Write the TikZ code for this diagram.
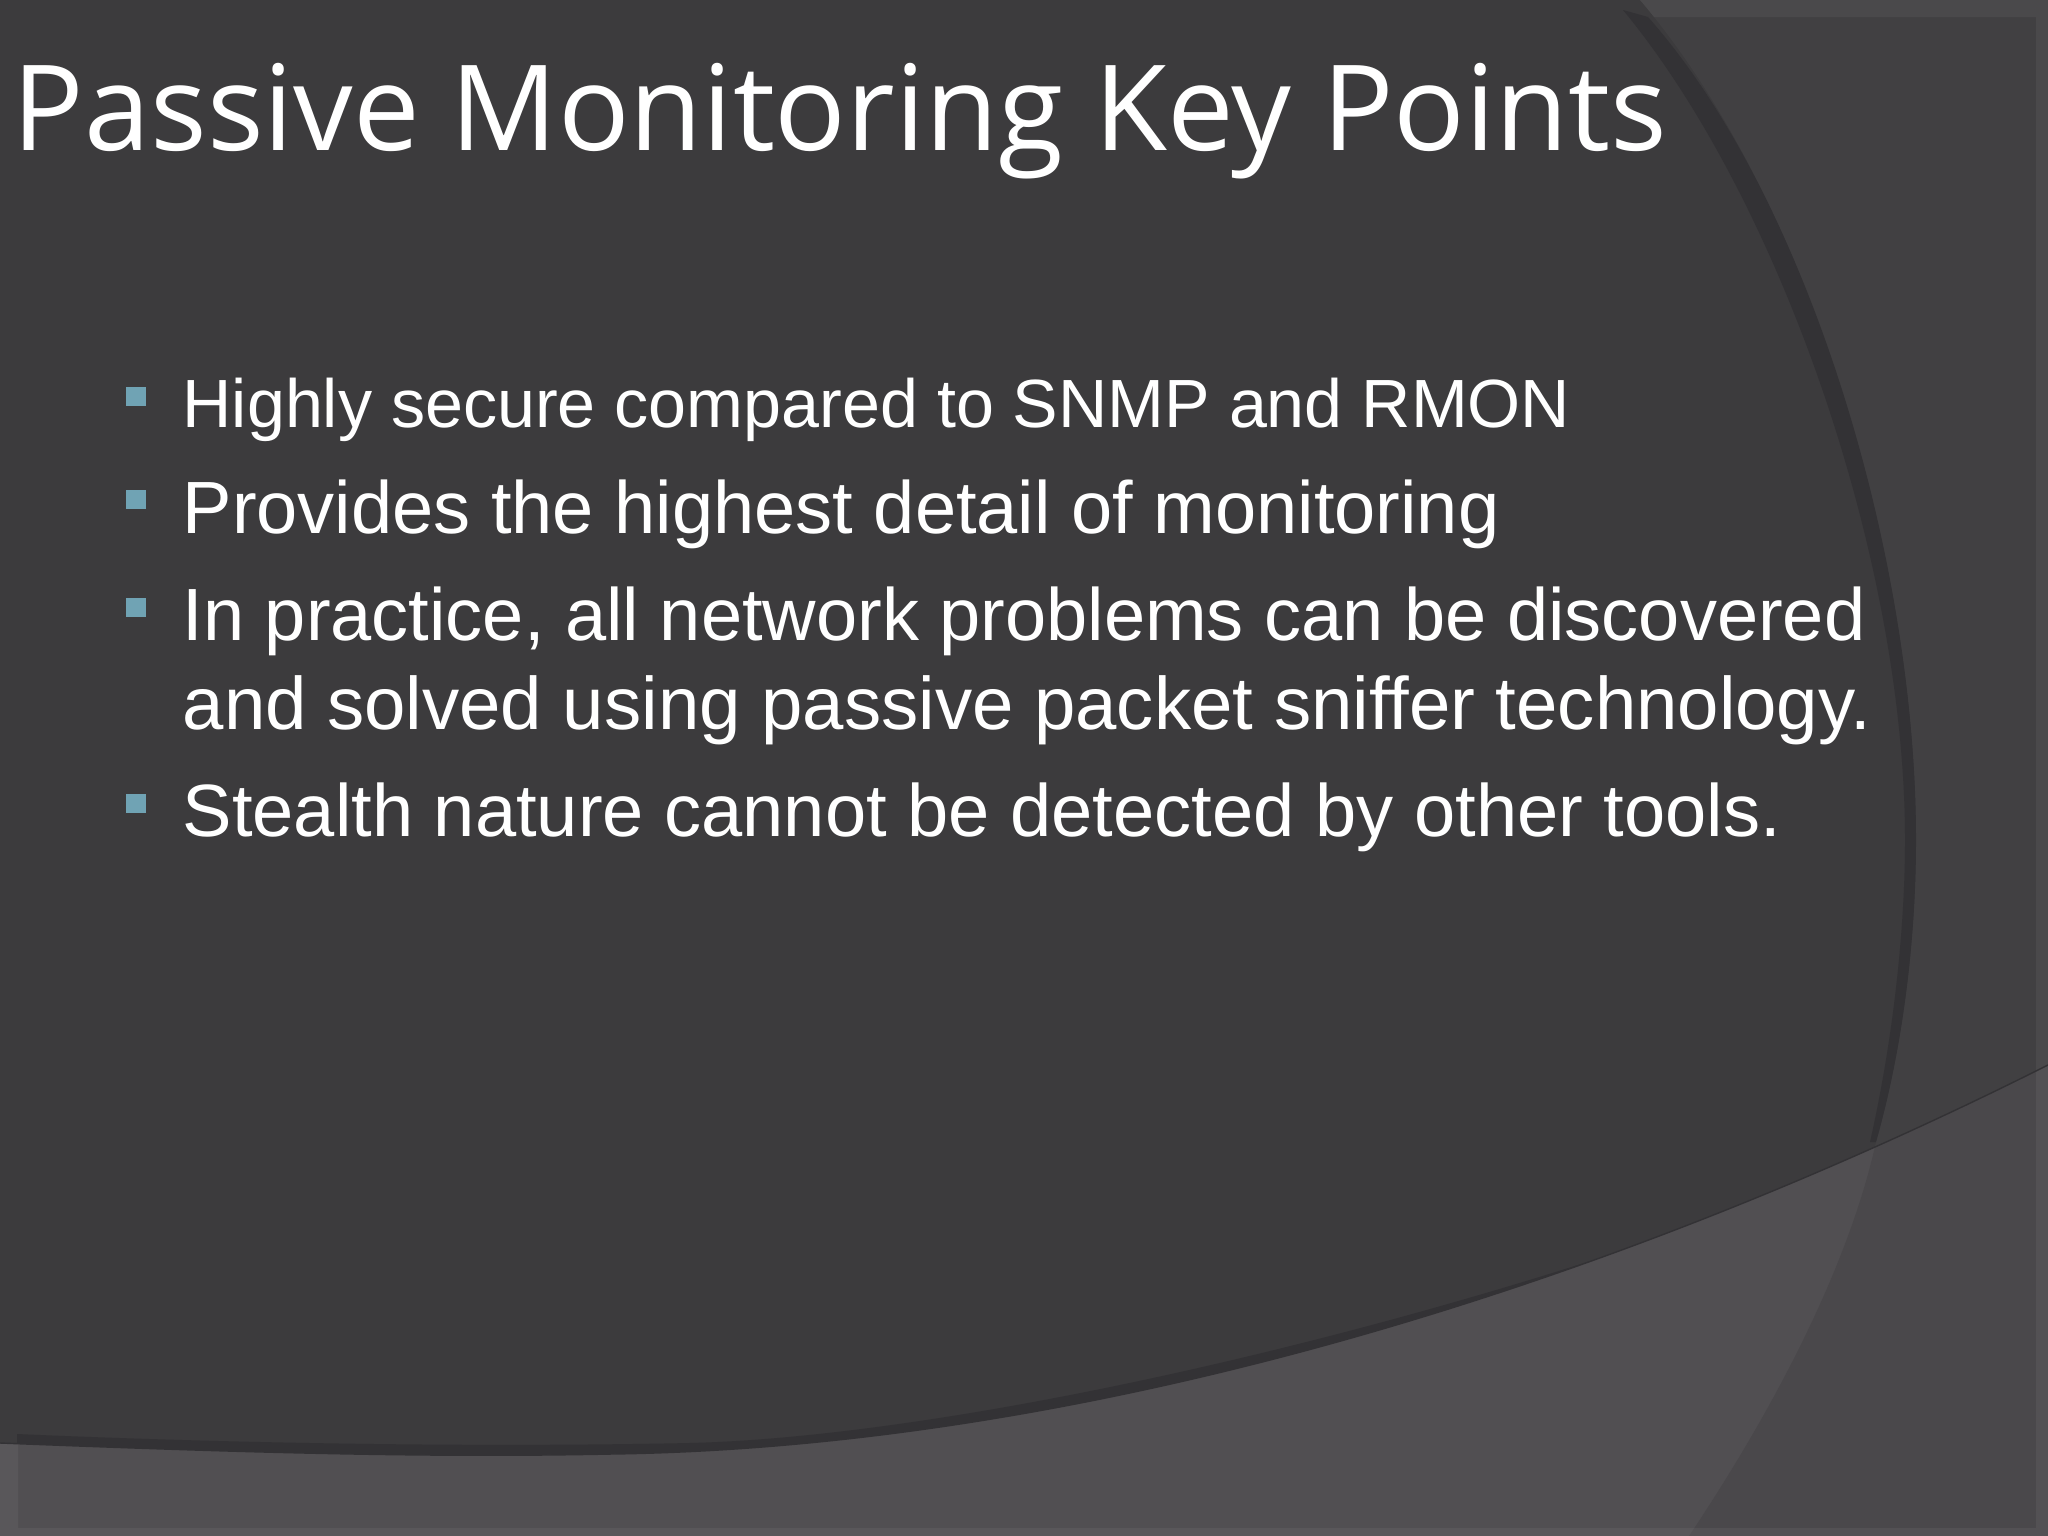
\documentclass[tikz,border=0pt]{standalone}
\usepackage{fontspec}
\setmainfont{Liberation Sans}
\newfontfamily\titlefont{Open Sans}
\definecolor{slidebg}{RGB}{60,59,61}
\definecolor{zonebg}{RGB}{65,64,66}
\definecolor{bandbg}{RGB}{51,50,53}
\definecolor{sweepbg}{RGB}{81,79,82}
\definecolor{sweepzone}{RGB}{74,72,75}
\definecolor{bulletbg}{RGB}{112,163,180}
\newcommand{\zonearc}{(1640,0) .. controls (1810,200) and (1916,560) .. (1916,840) .. controls (1916,930) and (1905,1040) .. (1876,1142) .. controls (1850,1260) and (1780,1400) .. (1689,1536)}
\newcommand{\sweepedge}{(0,1443) .. controls (230,1452) and (420,1458) .. (612,1454) .. controls (1050,1448) and (1560,1310) .. (2048,1065)}
\begin{document}
\begin{tikzpicture}[x=0.01cm,y=-0.01cm,
  bulletbox/.style={fill=bulletbg,draw=none,minimum size=0.19cm,inner sep=0pt},
  bodytext/.style={text=white,anchor=base west,inner sep=0pt,align=left},
  frameline/.style={white,opacity=0.05,even odd rule}]
\useasboundingbox (0,0) rectangle (2048,1536);
% Background
\fill[slidebg] (0,0) rectangle (2048,1536);
\fill[zonebg] \zonearc -- (2048,1536) -- (2048,0) -- cycle;
\begin{scope}
\clip \zonearc -- (2048,1536) -- (2048,0) -- cycle;
\fill[frameline] (0,0) rectangle (2048,1536) (0,17) rectangle (2036,1528);
\end{scope}
% Dark band
\fill[bandbg] (1623,10) .. controls (1780,200) and (1905,560) .. (1905,840) .. controls (1905,930) and (1893,1040) .. (1870,1142) -- (1876,1142) .. controls (1905,1040) and (1916,930) .. (1916,840) .. controls (1916,560) and (1810,200) .. (1648,17) -- cycle;
\fill[bandbg] (17,1434) .. controls (200,1442) and (450,1448) .. (689,1443) .. controls (900,1438) and (1250,1370) .. (1600,1258) -- (1600,1536) -- (17,1536) -- cycle;
% Lower sweep
\fill[sweepbg] \sweepedge -- (2048,1536) -- (0,1536) -- cycle;
\begin{scope}
\clip \sweepedge -- (2048,1536) -- (0,1536) -- cycle;
\fill[sweepzone] \zonearc -- (2048,1536) -- (2048,0) -- cycle;
\fill[frameline] (0,0) rectangle (2048,1536) (18,0) rectangle (2036,1528);
\end{scope}
\draw[bandbg,line width=0.4pt] \sweepedge;
% Title
\node[text=white,anchor=base west,inner sep=0pt] (title) at (12,150) {\titlefont\fontsize{33.8}{40}\selectfont Passive Monitoring Key Points};
% Bullets
\node[bulletbox] (b1) at (136,396) {};
\node[bulletbox] (b2) at (136,499) {};
\node[bulletbox] (b3) at (136,607) {};
\node[bulletbox] (b4) at (136,803) {};
\node[bodytext,font=\fontsize{19.4}{24}\selectfont] (line1) at (182,427) {Highly secure compared to SNMP and RMON};
\node[bodytext,font=\fontsize{21.05}{25}\selectfont] (line2) at (182,533) {Provides the highest detail of monitoring};
\node[bodytext,font=\fontsize{21.05}{25}\selectfont] (line3) at (182,640) {In practice, all network problems can be discovered};
\node[bodytext,font=\fontsize{21.15}{25}\selectfont] (line4) at (182,729) {and solved using passive packet sniffer technology.};
\node[bodytext,font=\fontsize{21.07}{25}\selectfont] (line5) at (182,836) {Stealth nature cannot be detected by other tools.};
\end{tikzpicture}
\end{document}
